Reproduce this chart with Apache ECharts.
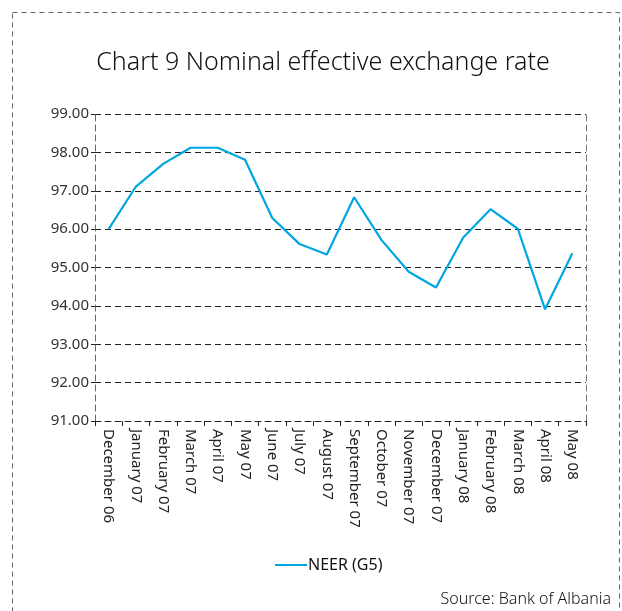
<!DOCTYPE html>
<html>
<head>
<meta charset="utf-8">
<script src="https://cdn.jsdelivr.net/npm/echarts@6/dist/echarts.min.js"></script>
<style>
	html, body { margin: 0; padding: 0; background: #fff; }
	#chart { width: 622px; height: 611px; }
</style>
</head>
<body>
<div id="chart"></div>
<script>
var months = ["December 06", "January 07", "February 07", "March 07", "April 07", "May 07",
	"June 07", "July 07", "August 07", "September 07", "October 07", "November 07",
	"December 07", "January 08", "February 08", "March 08", "April 08", "May 08"];
var neer = [96.00, 97.11, 97.70, 98.12, 98.12, 97.81, 96.29, 95.61, 95.34, 96.83,
	95.72, 94.89, 94.48, 95.78, 96.52, 96.01, 93.91, 95.37];
var yTicks = [91, 99, 1];

var font = "'Noto Sans', sans-serif";
var chart = echarts.init(document.getElementById("chart"));

var option = {
	animation: false,
	title: {
		text: "Chart 9 Nominal effective exchange rate",
		left: 318,
		textAlign: "center",
		top: 45,
		textStyle: { fontFamily: font, fontWeight: 300, fontSize: 25, color: "#111" }
	},
	legend: {
		top: 552,
		left: 270,
		itemWidth: 32,
		itemHeight: 2,
		itemGap: 4,
		icon: "rect",
		textStyle: { fontFamily: font, fontSize: 16, color: "#111", padding: [0, 0, 0, -4] },
		data: ["NEER (G5)"]
	},
	grid: { left: 95, right: 36, top: 114, bottom: 190 },
	xAxis: {
		type: "category",
		data: months,
		boundaryGap: true,
		axisLine: { lineStyle: { color: "#222", type: [6, 4], width: 1 } },
		axisTick: { show: true, length: 5, lineStyle: { color: "#222" } },
		axisLabel: {
			rotate: -90,
			interval: 0,
			margin: 8,
			fontFamily: font,
			fontSize: 15,
			color: "#222"
		}
	},
	yAxis: [{
		type: "value",
		min: yTicks[0],
		max: yTicks[1],
		interval: yTicks[2],
		axisLine: { show: true, lineStyle: { color: "#666", type: [6, 4] } },
		axisTick: { show: true, length: 4, lineStyle: { color: "#222" } },
		axisLabel: {
			margin: 6,
			fontFamily: font,
			fontSize: 15,
			color: "#333",
			formatter: function (v) { return v.toFixed(2); }
		},
		splitLine: { show: true, lineStyle: { color: "#222", type: [6, 4] } }
	}, {
		type: "value",
		position: "right",
		min: yTicks[0],
		max: yTicks[1],
		interval: yTicks[2],
		axisLine: { show: true, lineStyle: { color: "#777", type: [6, 4] } },
		axisTick: { show: false },
		axisLabel: { show: false },
		splitLine: { show: false }
	}],
	series: [{
		name: "NEER (G5)",
		type: "line",
		data: neer,
		symbol: "none",
		lineStyle: { color: "#00a6e2", width: 2.2 },
		itemStyle: { color: "#00a6e2" }
	}],
	graphic: [{
		type: "rect",
		shape: { x: 12.5, y: 12.5, width: 607, height: 620 },
		style: { fill: "none", stroke: "#666", lineWidth: 1, lineDash: [5, 4] },
		silent: true
	}, {
		type: "text",
		right: 11,
		top: 591,
		style: { text: "Source: Bank of Albania", font: "300 16px " + font, fill: "#111" }
	}]
};
chart.setOption(option);
</script>
</body>
</html>
